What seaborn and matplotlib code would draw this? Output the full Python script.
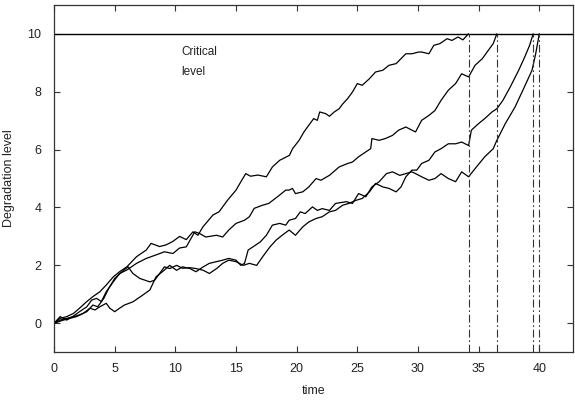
import numpy as np
import pandas as pd
import matplotlib
matplotlib.use("Agg")
import matplotlib.pyplot as plt
import seaborn as sns

# degradation paths: (time, level)
path_a = [(0, 0), (0.5, 0.17), (1.04, 0.23), (1.6, 0.34), (2.1, 0.52), (2.7, 0.75), (3.2, 0.92),
          (3.78, 1.09), (4.3, 1.32), (4.9, 1.61), (5.4, 1.78), (6.0, 1.95), (6.8, 2.3), (7.6, 2.53),
          (8.0, 2.76), (8.7, 2.65), (9.25, 2.71), (9.8, 2.83), (10.35, 3.0), (10.9, 2.89), (11.45, 3.16),
          (11.86, 3.04), (12.27, 3.33), (13.1, 3.74), (13.6, 3.85), (14.3, 4.25), (15.0, 4.6), (15.4, 4.89),
          (15.8, 5.17), (16.2, 5.08), (16.8, 5.12), (17.5, 5.06), (18.0, 5.4), (18.6, 5.63), (19.4, 5.8),
          (19.66, 6.03), (20.2, 6.32), (20.6, 6.61), (21.0, 6.84), (21.4, 7.07), (21.7, 7.01), (21.9, 7.3),
          (22.4, 7.24), (22.7, 7.15), (23.1, 7.3), (23.5, 7.41), (23.8, 7.58), (24.2, 7.76), (24.6, 7.99),
          (25.0, 8.28), (25.4, 8.22), (26.0, 8.45), (26.5, 8.68), (27.1, 8.74), (27.6, 8.91), (28.2, 8.97),
          (28.6, 9.14), (29.0, 9.31), (29.5, 9.31), (30.06, 9.37), (30.3, 9.37), (30.9, 9.31), (31.3, 9.6),
          (31.8, 9.66), (32.4, 9.83), (32.8, 9.77), (33.3, 9.89), (33.7, 9.79), (34.17, 10.0)]

path_b = [(0, 0), (0.5, 0.23), (1.04, 0.11), (1.6, 0.25), (2.1, 0.40), (2.7, 0.57), (3.1, 0.8),
          (3.5, 0.86), (3.9, 0.75), (4.3, 1.09), (4.9, 1.44), (5.4, 1.72), (6.0, 1.84), (6.8, 2.07),
          (7.6, 2.24), (8.4, 2.36), (9.1, 2.47), (9.8, 2.41), (10.35, 2.6), (10.9, 2.64), (11.6, 3.16),
          (12.0, 3.1), (12.5, 2.98), (13.4, 3.04), (13.9, 2.98), (14.4, 3.22), (15.0, 3.45), (15.7, 3.56),
          (16.1, 3.68), (16.5, 3.97), (17.2, 4.08), (17.7, 4.14), (18.6, 4.43), (19.1, 4.6), (19.38, 4.6),
          (19.65, 4.66), (19.9, 4.48), (20.5, 4.54), (21.0, 4.71), (21.6, 5.0), (22.0, 4.94), (22.7, 5.11),
          (23.5, 5.4), (24.2, 5.52), (24.6, 5.57), (25.1, 5.75), (25.7, 5.92), (26.1, 6.03), (26.2, 6.38),
          (26.8, 6.32), (27.3, 6.38), (27.9, 6.49), (28.4, 6.67), (29.0, 6.78), (29.5, 6.67), (29.8, 6.61),
          (30.3, 7.01), (30.9, 7.18), (31.4, 7.35), (31.9, 7.7), (32.5, 8.05), (33.1, 8.28), (33.6, 8.62),
          (34.17, 8.51), (34.7, 8.91), (35.3, 9.14), (35.8, 9.43), (36.2, 9.66), (36.5, 10.0)]

path_c = [(0, 0), (0.5, 0.11), (1.04, 0.17), (1.6, 0.23), (2.1, 0.29), (2.7, 0.4), (3.2, 0.63),
          (3.6, 0.57), (4.1, 0.86), (4.5, 1.2), (5.0, 1.55), (5.6, 1.78), (6.1, 1.95), (6.5, 1.72),
          (7.06, 1.55), (7.9, 1.43), (8.3, 1.49), (8.7, 1.72), (9.1, 1.95), (9.53, 1.89), (10.1, 2.0),
          (10.6, 1.9), (11.2, 1.92), (11.7, 1.89), (12.3, 1.83), (12.8, 1.72), (13.4, 1.89), (13.9, 2.07),
          (14.4, 2.18), (15.0, 2.13), (15.6, 2.0), (16.1, 2.07), (16.7, 2.0), (17.2, 2.3), (17.8, 2.64),
          (18.3, 2.87), (18.8, 3.04), (19.38, 3.22), (19.9, 3.04), (20.5, 3.33), (21.0, 3.5), (21.6, 3.62),
          (22.1, 3.68), (22.7, 3.85), (23.2, 3.9), (23.8, 4.08), (24.3, 4.14), (24.9, 4.25), (25.4, 4.31),
          (26.0, 4.54), (26.5, 4.83), (27.1, 4.71), (27.6, 4.66), (28.2, 4.54), (28.6, 4.71), (29.0, 5.06),
          (29.5, 5.29), (29.9, 5.29), (30.3, 5.52), (30.9, 5.63), (31.4, 5.92), (31.9, 6.03), (32.5, 6.2),
          (33.1, 6.2), (33.6, 6.26), (34.17, 6.14), (34.4, 6.67), (35.0, 6.9), (35.5, 7.07), (36.1, 7.3),
          (36.5, 7.41), (37.0, 7.7), (37.6, 8.16), (38.3, 8.74), (38.8, 9.2), (39.2, 9.6), (39.5, 10.0)]

path_d = [(0, 0), (0.77, 0.11), (1.3, 0.17), (1.86, 0.23), (2.4, 0.34), (2.96, 0.52), (3.37, 0.46),
          (3.78, 0.57), (4.3, 0.69), (4.6, 0.52), (5.0, 0.4), (5.4, 0.52), (5.8, 0.63), (6.5, 0.74),
          (7.3, 0.97), (7.9, 1.15), (8.4, 1.6), (9.1, 1.84), (9.53, 2.0), (10.1, 1.83), (10.6, 1.95),
          (11.2, 1.89), (11.7, 1.78), (12.3, 1.95), (12.8, 2.07), (13.4, 2.13), (13.9, 2.18), (14.4, 2.24),
          (15.0, 2.18), (15.4, 2.0), (15.7, 2.07), (16.0, 2.53), (16.4, 2.64), (17.0, 2.81), (17.5, 3.04),
          (18.0, 3.39), (18.6, 3.45), (19.1, 3.39), (19.38, 3.56), (19.9, 3.62), (20.3, 3.85), (20.7, 3.79),
          (21.3, 4.02), (21.7, 3.9), (22.1, 3.96), (22.7, 3.9), (23.2, 4.14), (24.1, 4.2), (24.6, 4.14),
          (25.1, 4.48), (25.7, 4.37), (26.2, 4.71), (26.8, 4.89), (27.4, 5.17), (27.9, 5.23), (28.5, 5.11),
          (29.0, 5.17), (29.5, 5.23), (29.8, 5.17), (30.3, 5.06), (30.9, 4.94), (31.4, 5.0), (31.9, 5.17),
          (32.5, 5.0), (33.1, 4.89), (33.6, 5.23), (34.17, 5.06), (34.7, 5.34), (35.5, 5.75), (36.2, 6.03),
          (36.5, 6.32), (37.2, 6.9), (38.0, 7.47), (38.7, 8.1), (39.4, 8.74), (39.7, 9.31), (40.0, 10.0)]

critical_level = 10
hit_times = [34.17, 36.5, 39.5, 40.0]
x_ticks = [0, 5, 10, 15, 20, 25, 30, 35, 40]
y_ticks = [0, 2, 4, 6, 8, 10]

rows = []
for name, pts in [("a", path_a), ("b", path_b), ("c", path_c), ("d", path_d)]:
    for t, v in pts:
        rows.append({"path": name, "time": t, "level": v})
df = pd.DataFrame(rows)

sns.set_style("ticks")
plt.rcParams['font.family'] = ['Liberation Sans', 'DejaVu Sans']

fig = plt.figure(figsize=(5.75, 4.03), dpi=100)
ax = fig.add_axes([0.094, 0.126, 0.903, 0.862])

sns.lineplot(data=df, x="time", y="level", hue="path", units="path", estimator=None, sort=False,
             palette=["black"] * 4, linewidth=0.9, legend=False, ax=ax)

ax.axhline(critical_level, color="black", linewidth=1.0)
for ht in hit_times:
    ax.plot([ht, ht], [-1, critical_level], color="#333333", linewidth=0.8,
            linestyle=(0, (7, 2.5, 1.5, 2.5)))

ax.text(10.5, 9.37, "Critical", fontsize=8.5, ha="left", va="center", color="#222222")
ax.text(10.5, 8.68, "level", fontsize=8.5, ha="left", va="center", color="#222222")

ax.set_xlim(0, 42.8)
ax.set_ylim(-1, 11)
ax.set_xticks(x_ticks)
ax.set_yticks(y_ticks)
ax.tick_params(direction="in", top=True, right=True, labelsize=9, length=4, width=0.8,
               colors="#333333", labelcolor="#222222")
ax.tick_params(axis="x", pad=8)
ax.tick_params(axis="y", pad=9, labelright=False)
for s in ax.spines.values():
    s.set_color("#333333")
    s.set_linewidth(0.9)

ax.set_xlabel("time", fontsize=9, color="#222222", labelpad=7)
ax.set_ylabel("Degradation level", fontsize=9, color="#222222", labelpad=9)

fig.savefig("out.png", dpi=100)
